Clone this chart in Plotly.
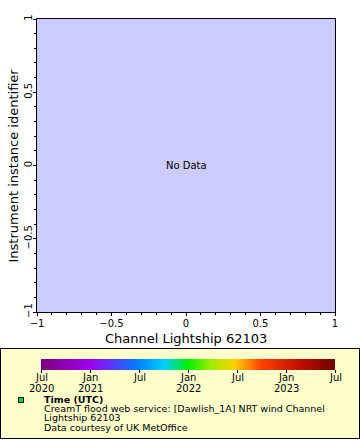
import plotly.graph_objects as go

# ---- data / labels ----
x_range = [-1, 1]
y_range = [-1, 1]
x_title = "Channel Lightship 62103"
y_title = "Instrument instance identifier"
no_data_text = "No Data"
cbar_tickvals = [0, 6, 12, 18, 24, 30, 36]  # months since Jul 2020
cbar_month_labels = ["Jul", "Jan", "Jul", "Jan", "Jul", "Jan", "Jul"]
cbar_year_labels = ["2020", "2021", "", "2022", "", "2023", ""]
legend_lines = [
    "<b>Time (UTC)</b>",
    "CreamT flood web service: [Dawlish_1A] NRT wind Channel",
    "Lightship 62103",
    "Data courtesy of UK MetOffice",
]
colorscale = [
    [0.0, "#7f007f"], [0.17, "#a000f0"], [0.33, "#0080ff"], [0.42, "#00d0ff"],
    [0.5, "#00f000"], [0.58, "#a0f000"], [0.66, "#ffd000"], [0.75, "#ff4000"],
    [0.88, "#c01000"], [1.0, "#700000"],
]

W, H = 360, 440
L, R, T, B = 37, 335, 19, 312
CB_X0, CB_LEN = 41, 294


def px(xp):
    return (xp - L) / (R - L)


def py(yp):
    return (B - yp) / (B - T)


FONT = "DejaVu Sans"

fig = go.Figure()
fig.add_trace(go.Scatter(
    x=[None], y=[None], mode="markers", showlegend=False, hoverinfo="skip",
    marker=dict(
        color=[0], cmin=cbar_tickvals[0], cmax=cbar_tickvals[-1],
        colorscale=colorscale, showscale=True,
        colorbar=dict(
            orientation="h", lenmode="pixels", len=CB_LEN, thickness=11,
            thicknessmode="pixels",
            x=px(CB_X0), xanchor="left", y=py(359), yanchor="top",
            outlinewidth=0, tickvals=cbar_tickvals, showticklabels=False,
            ticks="outside", ticklen=3, tickcolor="black",
            ypad=0, xpad=0,
        ),
    ),
))

axis_common = dict(
    showgrid=False, zeroline=False, showline=True, linecolor="black",
    linewidth=1, mirror=True, ticks="outside", ticklen=3, tickcolor="black",
    dtick=0.5, tick0=-1, automargin=False,
    tickfont=dict(family=FONT, size=10, color="black"),
    minor=dict(dtick=0.1, ticks="outside", ticklen=2, tickcolor="black"),
)

fig.update_layout(
    width=W, height=H,
    margin=dict(l=L, r=W - R, t=T, b=H - B, pad=0, autoexpand=False),
    paper_bgcolor="white", plot_bgcolor="#ccccff",
    xaxis=dict(range=x_range, ticklabelstandoff=-1, **axis_common),
    yaxis=dict(range=y_range, tickangle=-90, ticklabelstandoff=-3, **axis_common),
    showlegend=False,
)

# axis titles
fig.add_annotation(x=0.5, y=py(338), xref="paper", yref="paper", text=x_title,
                   showarrow=False, xanchor="center", yanchor="middle",
                   font=dict(family=FONT, size=13, color="black"))
fig.add_annotation(x=px(13), y=0.5, xref="paper", yref="paper", text=y_title,
                   showarrow=False, xanchor="center", yanchor="middle", textangle=-90,
                   font=dict(family=FONT, size=13, color="black"))

fig.add_annotation(x=0, y=0, xref="x", yref="y", text=no_data_text, showarrow=False,
                   font=dict(family=FONT, size=10, color="black"))

# legend box
fig.add_shape(type="rect", xref="paper", yref="paper",
              x0=px(0.5), x1=px(359.5), y0=py(438.5), y1=py(348.5),
              fillcolor="#ffffcc", line=dict(color="black", width=1), layer="below")
fig.add_shape(type="rect", xref="paper", yref="paper",
              x0=px(18.5), x1=px(23.5), y0=py(402.5), y1=py(397.5),
              fillcolor="#00dd00", line=dict(color="black", width=1))

# colorbar tick labels (placed along the colorbar scale)
span = cbar_tickvals[-1] - cbar_tickvals[0]
for v, m, yr in zip(cbar_tickvals, cbar_month_labels, cbar_year_labels):
    xx = px(CB_X0 + (v - cbar_tickvals[0]) / span * CB_LEN)
    fig.add_annotation(x=xx, y=py(377.5), xref="paper", yref="paper", text=m,
                       showarrow=False, xanchor="center", yanchor="middle",
                       font=dict(family=FONT, size=10, color="black"))
    if yr:
        fig.add_annotation(x=xx, y=py(388.5), xref="paper", yref="paper", text=yr,
                           showarrow=False, xanchor="center", yanchor="middle",
                           font=dict(family=FONT, size=10, color="black"))

line_y = [399, 408.5, 417.5, 427]
for txt, yy in zip(legend_lines, line_y):
    fig.add_annotation(x=px(42), y=py(yy), xref="paper", yref="paper", text=txt,
                       showarrow=False, xanchor="left", yanchor="middle",
                       font=dict(family=FONT, size=9.5, color="black"))

fig.write_html("out.html", config={"displayModeBar": False},
               post_script="document.body.style.margin='0';document.body.style.overflow='hidden';")
